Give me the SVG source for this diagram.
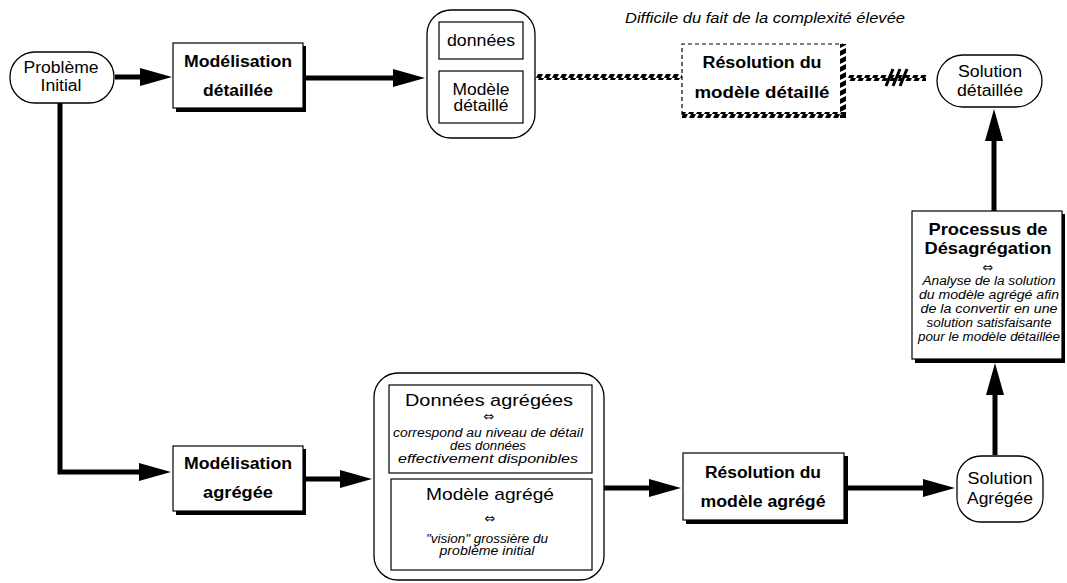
<svg xmlns="http://www.w3.org/2000/svg" width="1067" height="583" viewBox="0 0 1067 583">
<defs>
<style>
text{font-family:"Liberation Sans",Arial,sans-serif;fill:#000;text-anchor:middle}
.b{font-weight:bold;font-size:16px}
.n{font-size:16px}
.i{font-style:italic;font-size:12px}
.eq{font-family:"DejaVu Sans",sans-serif;font-size:13px}
.box{fill:#fff;stroke:#000;stroke-width:1.2}
.sh{fill:#000}
.pill{fill:#fff;stroke:#000;stroke-width:1.3}
.ln{stroke:#000;stroke-width:5;fill:none}
</style>
<marker id="ah" viewBox="0 0 32 18" refX="12" refY="9" markerWidth="32" markerHeight="18" orient="auto" markerUnits="userSpaceOnUse">
<path d="M0,0 L32,9 L0,18 Z" fill="#000"/>
</marker>
<pattern id="hh" patternUnits="userSpaceOnUse" width="8" height="6">
<polygon points="3,0 8,0 5,6 0,6" fill="#000"/>
</pattern>
<pattern id="hv" patternUnits="userSpaceOnUse" width="6" height="8">
<polygon points="0,3 6,0 6,5 0,8" fill="#000"/>
</pattern>
</defs>

<g id="connectors">
<line class="ln" x1="115" y1="77" x2="152" y2="77" marker-end="url(#ah)"/>
<line class="ln" x1="304" y1="78" x2="405" y2="78" marker-end="url(#ah)"/>
<polyline class="ln" points="60,103 60,472 151,472" marker-end="url(#ah)"/>
<line class="ln" x1="304" y1="479" x2="352" y2="479" marker-end="url(#ah)"/>
<line class="ln" x1="604" y1="488" x2="661" y2="488" marker-end="url(#ah)"/>
<line class="ln" x1="848" y1="488" x2="935" y2="488" marker-end="url(#ah)"/>
<line class="ln" x1="995" y1="455" x2="995" y2="383" marker-end="url(#ah)"/>
<line class="ln" x1="994" y1="211" x2="994" y2="129" marker-end="url(#ah)"/>
<rect x="535" y="74" width="147" height="6" fill="url(#hh)"/>
<rect x="848" y="75" width="78" height="6" fill="url(#hh)"/>
<g stroke="#000" stroke-width="3">
<line x1="886" y1="86" x2="893" y2="69"/>
<line x1="893" y1="86" x2="900" y2="69"/>
<line x1="900" y1="86" x2="907" y2="69"/>
</g>
</g>

<g id="probleme-initial">
<rect class="pill" x="10" y="52" width="104" height="51" rx="25"/>
<text class="n" x="61" y="73" textLength="75" lengthAdjust="spacingAndGlyphs">Problème</text>
<text class="n" x="61" y="91" textLength="41" lengthAdjust="spacingAndGlyphs">Initial</text>
</g>

<g id="modelisation-detaillee">
<rect class="sh" x="176" y="46" width="130" height="66"/>
<rect class="box" x="173" y="43" width="130" height="65"/>
<text class="b" x="238" y="67" textLength="108" lengthAdjust="spacingAndGlyphs">Modélisation</text>
<text class="b" x="238" y="96" textLength="70" lengthAdjust="spacingAndGlyphs">détaillée</text>
</g>

<g id="donnees-modele-detaille">
<rect class="pill" x="427" y="10" width="108" height="128" rx="24"/>
<rect class="box" x="439" y="22" width="84" height="37"/>
<text class="n" x="481" y="46" textLength="68" lengthAdjust="spacingAndGlyphs">données</text>
<rect class="box" x="439" y="71" width="84" height="52"/>
<text class="n" x="481" y="95" textLength="57" lengthAdjust="spacingAndGlyphs">Modèle</text>
<text class="n" x="481" y="111" textLength="55" lengthAdjust="spacingAndGlyphs">détaillé</text>
</g>

<g id="difficile">
<text class="i" style="font-size:14px" x="765" y="23" textLength="280" lengthAdjust="spacingAndGlyphs">Difficile du fait de la complexité élevée</text>
</g>

<g id="resolution-detaille">
<rect x="682" y="44" width="161" height="71" fill="#fff"/>
<path d="M682,115 L682,44 L843,44" fill="none" stroke="#000" stroke-width="1.2" stroke-dasharray="4,3"/>
<rect x="840" y="44" width="6" height="74" fill="url(#hv)"/>
<rect x="682" y="112" width="164" height="6" fill="url(#hh)"/>
<text class="b" x="762" y="68" textLength="119" lengthAdjust="spacingAndGlyphs">Résolution du</text>
<text class="b" x="762" y="98" textLength="135" lengthAdjust="spacingAndGlyphs">modèle détaillé</text>
</g>

<g id="solution-detaillee">
<rect class="pill" x="937" y="55" width="105" height="52" rx="26"/>
<text class="n" x="990" y="77" textLength="64" lengthAdjust="spacingAndGlyphs">Solution</text>
<text class="n" x="990" y="96" textLength="66" lengthAdjust="spacingAndGlyphs">détaillée</text>
</g>

<g id="processus-desagregation">
<rect class="sh" x="915" y="214" width="150" height="149"/>
<rect class="box" x="912" y="211" width="150" height="148"/>
<text style="font-weight:bold;font-size:17px" x="988" y="235" textLength="119" lengthAdjust="spacingAndGlyphs">Processus de</text>
<text style="font-weight:bold;font-size:17px" x="988" y="254" textLength="127" lengthAdjust="spacingAndGlyphs">Désagrégation</text>
<text class="eq" x="988" y="272">⇔</text>
<text class="i" x="989" y="285" textLength="133" lengthAdjust="spacingAndGlyphs">Analyse de la solution</text>
<text class="i" x="989" y="299" textLength="140" lengthAdjust="spacingAndGlyphs">du modèle agrégé afin</text>
<text class="i" x="989" y="313" textLength="137" lengthAdjust="spacingAndGlyphs">de la convertir en une</text>
<text class="i" x="989" y="327" textLength="125" lengthAdjust="spacingAndGlyphs">solution satisfaisante</text>
<text class="i" x="989" y="341" textLength="142" lengthAdjust="spacingAndGlyphs">pour le modèle détaillée</text>
</g>

<g id="modelisation-agregee">
<rect class="sh" x="176" y="449" width="130" height="66"/>
<rect class="box" x="173" y="446" width="130" height="65"/>
<text class="b" x="238" y="469" textLength="108" lengthAdjust="spacingAndGlyphs">Modélisation</text>
<text class="b" x="238" y="498" textLength="70" lengthAdjust="spacingAndGlyphs">agrégée</text>
</g>

<g id="donnees-modele-agrege">
<rect class="pill" x="374" y="373" width="230" height="207" rx="24"/>
<rect class="box" x="389" y="385" width="203" height="88"/>
<text style="font-size:17px" x="489" y="406" textLength="168" lengthAdjust="spacingAndGlyphs">Données agrégées</text>
<text class="eq" x="489" y="421">⇔</text>
<text class="i" x="488" y="437" textLength="190" lengthAdjust="spacingAndGlyphs">correspond au niveau de détail</text>
<text class="i" x="488" y="450" textLength="76" lengthAdjust="spacingAndGlyphs">des données</text>
<text class="i" x="488" y="463" textLength="180" lengthAdjust="spacingAndGlyphs">effectivement disponibles</text>
<rect class="box" x="391" y="479" width="201" height="91"/>
<text style="font-size:17px" x="490" y="500" textLength="128" lengthAdjust="spacingAndGlyphs">Modèle agrégé</text>
<text class="eq" x="490" y="523">⇔</text>
<text class="i" x="487" y="543" textLength="122" lengthAdjust="spacingAndGlyphs">"vision" grossière du</text>
<text class="i" x="487" y="555" textLength="95" lengthAdjust="spacingAndGlyphs">problème initial</text>
</g>

<g id="resolution-agrege">
<rect class="sh" x="686" y="456" width="162" height="68"/>
<rect class="box" x="683" y="453" width="161" height="67"/>
<text class="b" x="763" y="478" textLength="116" lengthAdjust="spacingAndGlyphs">Résolution du</text>
<text class="b" x="763" y="507" textLength="125" lengthAdjust="spacingAndGlyphs">modèle agrégé</text>
</g>

<g id="solution-agregee">
<rect class="pill" x="957" y="456" width="86" height="66" rx="24"/>
<text class="n" x="1000" y="484" textLength="65" lengthAdjust="spacingAndGlyphs">Solution</text>
<text class="n" x="1000" y="504" textLength="66" lengthAdjust="spacingAndGlyphs">Agrégée</text>
</g>
</svg>
